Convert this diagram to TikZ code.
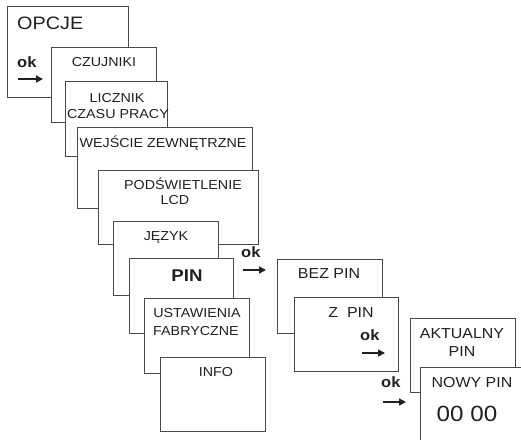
\documentclass[tikz,border=0pt]{standalone}
\usepackage{fontspec}
\setmainfont[FakeStretch=1.1]{Liberation Sans}
\usetikzlibrary{arrows.meta}
\definecolor{linegray}{HTML}{4A4A4A}
\definecolor{inkblack}{HTML}{231F20}
\tikzset{
  every picture/.style={line join=miter, >={Triangle[length=7pt,width=7pt]}},
  menubox/.style={draw=linegray, fill=white, line width=1pt, inner sep=0pt, anchor=north west},
  menutext/.style={text=inkblack, inner sep=0pt, anchor=base, font=\fontsize{13}{15}\selectfont},
  bigtext/.style={menutext, font=\fontsize{14.5}{17}\selectfont},
  oktext/.style={text=inkblack, inner sep=0pt, anchor=base west, font=\bfseries\fontsize{15}{15}\selectfont},
  okarrow/.style={->, draw=inkblack, line width=1.5pt},
}

\begin{document}
\begin{tikzpicture}[x=1pt,y=-1pt]
\useasboundingbox (0,0) rectangle (521,439);
\clip (0,0) rectangle (521,439);
% menu boxes, drawn back to front
\foreach \nm/\xa/\ya/\xb/\yb in {opcje/7/6/128/97, czujniki/51/47/156/122, licznik/65/81/167/156,
    wejscie/77/127/252/208, podsw/98/170/258/244, jezyk/113/221/218/295, pin/129/258/233/333,
    ustaw/144/298/249/373, info/160/357/265/431, bezpin/277/259/382/333, zpin/294/297/398/371,
    aktualny/410/318/515/392, nowypin/420/367/540/470}
  \node[menubox, minimum width=\xb pt-\xa pt, minimum height=\yb pt-\ya pt] (\nm) at (\xa,\ya) {};
% labels
\node[menutext, anchor=base west, font=\fontsize{18}{20}\selectfont] (opcje-t) at (17,29) {OPCJE};
\node[menutext] (czujniki-t) at (104,66) {CZUJNIKI};
\node[menutext] (licznik-t) at (117,102) {LICZNIK};
\node[menutext] (licznik-t2) at (118,118) {CZASU PRACY};
\node[menutext] (wejscie-t) at (163,147) {WEJŚCIE ZEWNĘTRZNE};
\node[menutext] (podsw-t) at (183,189) {PODŚWIETLENIE};
\node[menutext] (podsw-t2) at (175,204) {LCD};
\node[menutext] (jezyk-t) at (166,240) {JĘZYK};
\node[menutext, font=\bfseries\fontsize{17}{18}\selectfont] (pin-t) at (187,281) {PIN};
\node[menutext] (ustaw-t) at (197,317) {USTAWIENIA};
\node[menutext] (ustaw-t2) at (196,335) {FABRYCZNE};
\node[menutext] (info-t) at (216,376) {INFO};
\node[bigtext] (bezpin-t) at (329,278) {BEZ PIN};
\node[bigtext] (zpin-t) at (351,317) {Z\ \ PIN};
\node[bigtext] (aktualny-t) at (462,338) {AKTUALNY};
\node[bigtext] (aktualny-t2) at (462,356) {PIN};
\node[bigtext] (nowypin-t) at (472,387) {NOWY PIN};
\node[menutext, font=\fontsize{22}{24}\selectfont] (nowypin-t2) at (467,421) {00 00};
% ok arrows
\node[oktext] (ok1) at (17,67) {ok};
\coordinate (ok1-a) at (18,79); \coordinate (ok1-b) at (43,79);
\draw[okarrow] (ok1-a) -- (ok1-b);
\node[oktext] (ok2) at (241,257) {ok};
\coordinate (ok2-a) at (243,270); \coordinate (ok2-b) at (266,270);
\draw[okarrow] (ok2-a) -- (ok2-b);
\node[oktext] (ok3) at (360,340) {ok};
\coordinate (ok3-a) at (362,353); \coordinate (ok3-b) at (385,353);
\draw[okarrow] (ok3-a) -- (ok3-b);
\node[oktext] (ok4) at (381,387) {ok};
\coordinate (ok4-a) at (383,402); \coordinate (ok4-b) at (406,402);
\draw[okarrow] (ok4-a) -- (ok4-b);
\end{tikzpicture}
\end{document}
